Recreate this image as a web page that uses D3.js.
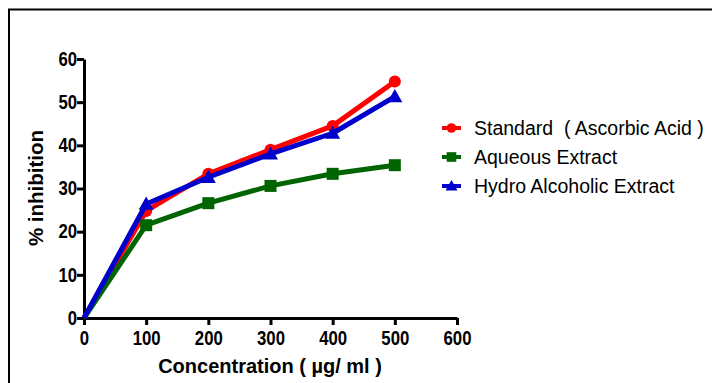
<!DOCTYPE html>
<html><head><meta charset="utf-8">
<script src="https://cdn.jsdelivr.net/npm/d3@7"></script>
<style>body{margin:0;background:#fff}svg{display:block;font-family:"Liberation Sans",Arial,sans-serif}</style>
</head><body><svg id="c" width="713" height="383"></svg>
<script>
const concentrations = [0, 100, 200, 300, 400, 500];
const standardValues = [0, 24.8, 33.4, 39.0, 44.5, 54.8];
const aqueousValues = [0, 21.5, 26.6, 30.6, 33.4, 35.4];
const hydroValues = [0, 26.4, 32.6, 38.0, 42.8, 51.3];
const xTicks = [0, 100, 200, 300, 400, 500, 600];
const yTicks = [0, 10, 20, 30, 40, 50, 60];
const seriesNames = ["Standard  ( Ascorbic Acid )", "Aqueous Extract", "Hydro Alcoholic Extract"];
const seriesColors = ["#ff0000", "#006400", "#0000cc"];
const seriesShapes = ["circle", "square", "triangle"];
const seriesValues = [standardValues, aqueousValues, hydroValues];

const svg = d3.select("#c");
svg.append("line").attr("x1",8).attr("x2",712).attr("y1",9.5).attr("y2",9.5).attr("stroke","#000").attr("stroke-width",2);
svg.append("line").attr("x1",9).attr("x2",9).attr("y1",9).attr("y2",383).attr("stroke","#000").attr("stroke-width",2);

const x = d3.scaleLinear().domain([0,600]).range([84,457]);
const y = d3.scaleLinear().domain([0,60]).range([318,59]);

const xAxis = svg.append("g").attr("transform","translate(0,318)")
  .call(d3.axisBottom(x).tickValues(xTicks).tickSize(7).tickPadding(6).tickSizeOuter(0));
const yAxis = svg.append("g").attr("transform","translate(84,0)")
  .call(d3.axisLeft(y).tickValues(yTicks).tickSize(7).tickPadding(1).tickSizeOuter(0));
[xAxis,yAxis].forEach(g=>{
  g.select(".domain").attr("stroke","#000").attr("stroke-width",3);
  g.selectAll(".tick line").attr("stroke","#000").attr("stroke-width",3);
  g.selectAll(".tick text").attr("fill","#000").attr("font-size",19.5).attr("font-weight","bold")
   .attr("font-family","'Liberation Sans',Arial,sans-serif").attr("transform","scale(0.86,1)");
});

svg.append("text").attr("x",270).attr("y",373).attr("text-anchor","middle")
  .attr("font-size",20).attr("font-weight","bold").text("Concentration ( µg/ ml )");
svg.append("text").attr("transform","translate(43,188) rotate(-90)").attr("text-anchor","middle")
  .attr("font-size",20.5).attr("font-weight","bold").text("% inhibition");

function drawMarker(g, shape, cx, cy, color, scale){
  scale = scale||1;
  if(shape==="circle") g.append("circle").attr("cx",cx).attr("cy",cy).attr("r",6*scale).attr("fill",color);
  else if(shape==="square") g.append("rect").attr("x",cx-6*scale).attr("y",cy-6*scale).attr("width",12*scale).attr("height",12*scale).attr("fill",color);
  else {
    const s=7.5*scale;
    g.append("path").attr("d",`M${cx},${cy-s}L${cx+s},${cy+s*0.75}L${cx-s},${cy+s*0.75}Z`).attr("fill",color);
  }
}

const line = d3.line().x((d,i)=>x(concentrations[i])).y(d=>y(d));
seriesValues.forEach((vals,k)=>{
  const g = svg.append("g");
  g.append("path").datum(vals).attr("d",line).attr("fill","none")
    .attr("stroke",seriesColors[k]).attr("stroke-width",5).attr("stroke-linejoin","round");
  vals.forEach((v,i)=>{ if(i>0) drawMarker(g, seriesShapes[k], x(concentrations[i]), y(v), seriesColors[k]); });
});

const legendY = [128, 157, 186];
seriesNames.forEach((name,k)=>{
  const g = svg.append("g");
  g.append("line").attr("x1",442).attr("x2",461).attr("y1",legendY[k]).attr("y2",legendY[k])
    .attr("stroke",seriesColors[k]).attr("stroke-width",4);
  drawMarker(g, seriesShapes[k], 451.5, legendY[k], seriesColors[k], 0.8);
  g.append("text").attr("x",474).attr("y",legendY[k]+7).attr("font-size",19.5).attr("fill","#000")
    .style("white-space","pre").text(name);
});
</script></body></html>
